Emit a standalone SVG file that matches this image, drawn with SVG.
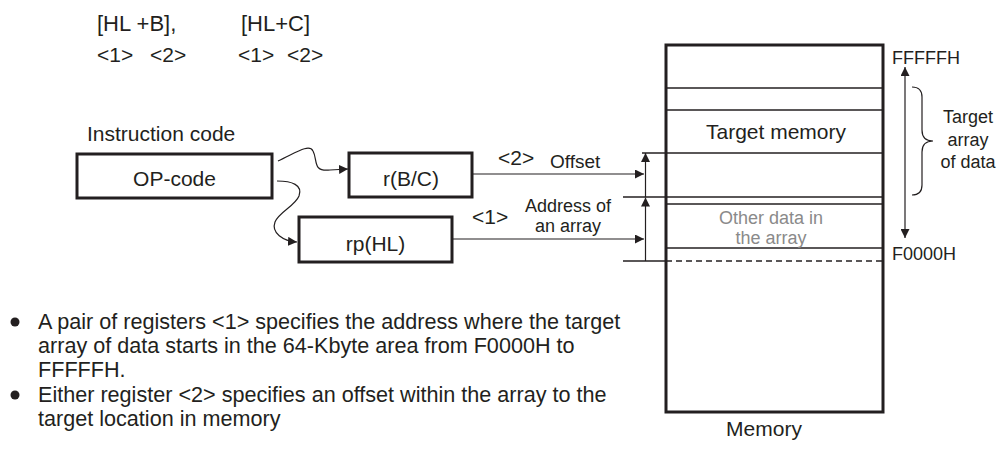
<svg xmlns="http://www.w3.org/2000/svg" width="1001" height="450" viewBox="0 0 1001 450">
<style>
text{font-family:"Liberation Sans",Arial,sans-serif;fill:#231f20}
.big{font-size:21px}
.note{font-size:21.6px}
.hd{font-size:22px}
.md{font-size:19px}
.lb{font-size:18px}
.sm{font-size:18px}
.box{fill:#fff;stroke:#231f20;stroke-width:3}
.ln{stroke:#231f20;stroke-width:1.4;fill:none}
.thin{stroke:#231f20;stroke-width:1.2;fill:none}
.gray{fill:#8a8a8a}
</style>
<defs>
<marker id="ah" viewBox="0 0 10 10" refX="10" refY="5" markerWidth="9" markerHeight="9" markerUnits="userSpaceOnUse" orient="auto">
<path d="M0,0 L10,5 L0,10 z" fill="#231f20"/>
</marker>
</defs>
<rect width="1001" height="450" fill="#fff"/>

<g id="header">
<text class="hd" x="97" y="31">[HL +B],</text>
<text class="hd" x="241" y="31">[HL+C]</text>
<text class="big" x="97" y="62">&lt;1&gt;</text>
<text class="big" x="150" y="62">&lt;2&gt;</text>
<text class="big" x="238" y="62">&lt;1&gt;</text>
<text class="big" x="287" y="62">&lt;2&gt;</text>
</g>

<g id="instruction">
<text class="big" x="87" y="141">Instruction code</text>
<rect class="box" x="77" y="154" width="195" height="44"/>
<text class="big" x="174.5" y="186" text-anchor="middle">OP-code</text>
</g>

<g id="rbc">
<rect class="box" x="349" y="153" width="123" height="44"/>
<text class="big" x="411" y="186" text-anchor="middle">r(B/C)</text>
</g>

<g id="rphl">
<rect class="box" x="299" y="217" width="153" height="45"/>
<text class="big" x="375.5" y="251" text-anchor="middle">rp(HL)</text>
</g>

<g id="memory">
<rect class="box" x="666" y="45" width="217" height="367"/>
<line class="ln" x1="666" y1="88" x2="883" y2="88"/>
<line class="ln" x1="666" y1="110" x2="883" y2="110"/>
<line class="ln" x1="642" y1="153" x2="883" y2="153"/>
<line class="ln" x1="623" y1="197" x2="883" y2="197"/>
<line class="ln" x1="666" y1="204" x2="883" y2="204"/>
<line class="ln" x1="666" y1="248" x2="883" y2="248"/>
<line class="ln" x1="623" y1="261" x2="666" y2="261"/>
<line class="ln" x1="666" y1="261" x2="883" y2="261" stroke-dasharray="6,4"/>
<text class="big" x="776" y="139" text-anchor="middle">Target memory</text>
<text class="lb gray" x="771" y="224" text-anchor="middle">Other data in</text>
<text class="lb gray" x="771" y="244" text-anchor="middle">the array</text>
<text class="big" x="764" y="436" text-anchor="middle">Memory</text>
</g>

<g id="addresses">
<text class="sm" x="892" y="64">FFFFFH</text>
<text class="sm" x="892" y="260">F0000H</text>
<text class="sm" x="968" y="123" text-anchor="middle">Target</text>
<text class="sm" x="968" y="146" text-anchor="middle">array</text>
<text class="sm" x="968" y="168" text-anchor="middle">of data</text>
</g>

<g id="connectors">
<path class="thin" d="M278,161 C294,154 309,143 313,151 C318,160 312,172 330,170 L348,169" marker-end="url(#ah)"/>
<path class="thin" d="M277,181 C292,181 303,185 299,196 C295,206 279,212 275,222 C271,233 283,241 297,242" marker-end="url(#ah)"/>
<line class="thin" x1="472" y1="174" x2="644" y2="174" marker-end="url(#ah)"/>
<line class="thin" x1="452" y1="239" x2="644" y2="239" marker-end="url(#ah)"/>
<line class="thin" x1="645.5" y1="197" x2="645.5" y2="153" marker-end="url(#ah)"/>
<line class="thin" x1="645.5" y1="261" x2="645.5" y2="197.5" marker-end="url(#ah)"/>
<line class="thin" x1="905" y1="152" x2="905" y2="67" marker-end="url(#ah)"/>
<line class="thin" x1="905" y1="152" x2="905" y2="238" marker-end="url(#ah)"/>
<path class="thin" d="M912,87 Q922,87 922,97 L922,130 Q922,141 933,141 Q922,141 922,152 L922,185 Q922,195 912,195"/>
<text class="big" x="498" y="165">&lt;2&gt;</text>
<text class="md" x="550" y="168">Offset</text>
<text class="big" x="472" y="224">&lt;1&gt;</text>
<text class="lb" x="568" y="212" text-anchor="middle">Address of</text>
<text class="lb" x="568" y="232" text-anchor="middle">an array</text>
</g>

<g id="notes">
<circle cx="15" cy="322" r="4.5" fill="#231f20"/>
<circle cx="15" cy="395" r="4.5" fill="#231f20"/>
<text class="note" x="38" y="329">A pair of registers &lt;1&gt; specifies the address where the target</text>
<text class="note" x="38" y="353">array of data starts in the 64-Kbyte area from F0000H to</text>
<text class="note" x="38" y="377">FFFFFH.</text>
<text class="note" x="38" y="402">Either register &lt;2&gt; specifies an offset within the array to the</text>
<text class="note" x="38" y="426">target location in memory</text>
</g>
</svg>
